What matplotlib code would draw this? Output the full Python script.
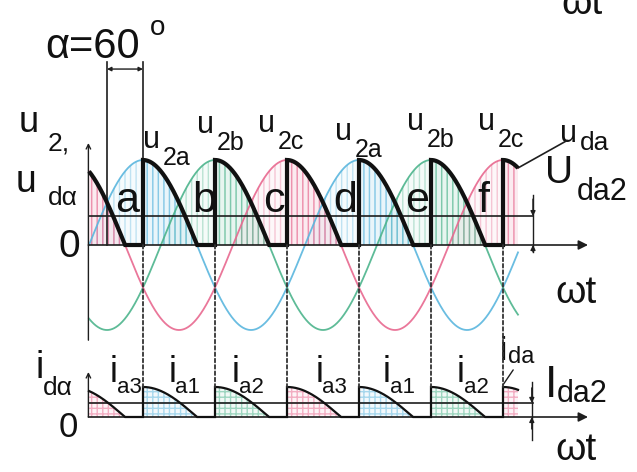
import numpy as np
import matplotlib
matplotlib.use("Agg")
import matplotlib.pyplot as plt
from matplotlib.patches import ConnectionPatch

plt.rcParams["font.family"] = ["Liberation Sans", "DejaVu Sans"]
plt.rcParams["hatch.linewidth"] = 1.0

# ---- three-phase half-wave rectifier, resistive load ----
# angles in electrical degrees, voltages/currents per unit of the peak value
phase_shifts = [0, 120, 240]                 # u2a, u2b, u2c
phase_colors = ["#5ab6de", "#4cb48c", "#e8688f"]
firing_angle = 60                            # alpha
theta_stop = 715                             # end of the drawn interval
ud_mean_level = 0.34                         # U_da2 marker level
id_mean_level = 0.47                         # I_da2 marker level
pulse_letters = ["a", "b", "c", "d", "e", "f"]
top_labels = ["2a", "2b", "2c", "2a", "2b", "2c"]
current_labels = ["a3", "a1", "a2", "a3", "a1", "a2"]

# firing instants: natural commutation (30 deg after zero crossing) + alpha
fire = [30 + firing_angle + 120 * k for k in range(-1, 7)]
fire_phase = [k % 3 for k in range(-1, 7)]

theta = np.linspace(0, theta_stop, 2400)
phases = [np.sin(np.radians(theta - s)) for s in phase_shifts]

# conduction segments of the rectified voltage
segments = []
for j in range(len(fire) - 1):
    start, end = max(fire[j], 0), min(fire[j + 1], theta_stop)
    if end <= start:
        continue
    t = np.linspace(start, end, 300)
    v = np.clip(np.sin(np.radians(t - phase_shifts[fire_phase[j]])), 0, None)
    segments.append((t, v, fire_phase[j]))
ud_t = np.concatenate([s[0] for s in segments])
ud_v = np.concatenate([s[1] for s in segments])

fig = plt.figure(figsize=(6.37, 4.72), dpi=100)
H = 472.0
ax1 = fig.add_axes([0, 122 / H, 1, 350 / H])
ax2 = fig.add_axes([0, 0, 1, 122 / H])
xlim = (-89 / 0.6, (637 - 89) / 0.6)
ax1.set_xlim(*xlim)
ax1.set_ylim((245 - 350) / 85, 245 / 85)
ax2.set_xlim(*xlim)
ax2.set_ylim((417 - 472) / 30, (417 - 350) / 30)
for ax in (ax1, ax2):
    ax.axis("off")

ink = "#1e1e1e"
txt = "#111111"

# ---------------- voltage diagram ----------------
for p, col in zip(phases, phase_colors):
    ax1.fill_between(theta, 0, p, where=p > 0, interpolate=True,
                     facecolor=(col, 0.05), edgecolor=(col, 0.35),
                     hatch="|||", linewidth=0, zorder=1)
for t, v, k in segments:
    ax1.fill_between(t, 0, v, facecolor=(phase_colors[k], 0.08),
                     edgecolor=(phase_colors[k], 0.5), hatch="|||",
                     linewidth=0, zorder=1.5)
for p, col in zip(phases, phase_colors):
    ax1.plot(theta, p, color=col, lw=1.3, alpha=0.9, zorder=3)

ax1.plot(ud_t, ud_v, color="#111111", lw=3.0, solid_joinstyle="miter",
         solid_capstyle="butt", zorder=5)

# axes with arrows
ax1.annotate("", xy=((588 - 89) / 0.6, 0), xytext=(-1, 0),
             arrowprops=dict(arrowstyle="-|>", color=ink, lw=1.2,
                             mutation_scale=14, shrinkA=0, shrinkB=0), zorder=4)
ax1.annotate("", xy=(-1, 1.2), xytext=(-1, -1.12),
             arrowprops=dict(arrowstyle="->", color=ink, lw=1.0,
                             mutation_scale=8, shrinkA=0, shrinkB=0), zorder=4)

# mean value line and its dimension marker
ax1.plot([0, 740], [ud_mean_level, ud_mean_level], color=ink, lw=1.2, zorder=4)
ax1.plot([740, 740], [0.59, -0.08], color=ink, lw=1.0, zorder=4)
ax1.annotate("", xy=(740, ud_mean_level), xytext=(740, ud_mean_level + 0.2),
             arrowprops=dict(arrowstyle="-|>", color=ink, lw=1.0,
                             mutation_scale=7, shrinkA=0, shrinkB=0))
ax1.annotate("", xy=(740, 0), xytext=(740, -0.08),
             arrowprops=dict(arrowstyle="-|>", color=ink, lw=1.0,
                             mutation_scale=7, shrinkA=0, shrinkB=0))

# alpha bracket between natural commutation point and firing point
nat = 30
ax1.plot([nat, nat], [0, 2.15], color=ink, lw=1.2, zorder=4)
ax1.plot([nat + firing_angle] * 2, [0, 2.15], color=ink, lw=1.2, zorder=4)
ax1.annotate("", xy=(nat, 2.07), xytext=(nat + firing_angle, 2.07),
             arrowprops=dict(arrowstyle="<|-|>", color=ink, lw=1.0,
                             mutation_scale=6, shrinkA=0, shrinkB=0))

# ---------------- current diagram ----------------
for t, v, k in segments:
    ax2.fill_between(t, 0, v, facecolor=(phase_colors[k], 0.07),
                     edgecolor=(phase_colors[k], 0.5), hatch="+++",
                     linewidth=0, zorder=1)
ax2.plot(ud_t, ud_v, color="#111111", lw=1.6, solid_joinstyle="miter", zorder=5)
ax2.annotate("", xy=((588 - 89) / 0.6, 0), xytext=(-1, 0),
             arrowprops=dict(arrowstyle="-|>", color=ink, lw=1.2,
                             mutation_scale=14, shrinkA=0, shrinkB=0), zorder=4)
ax2.annotate("", xy=(-1, 1.5), xytext=(-1, 0),
             arrowprops=dict(arrowstyle="->", color=ink, lw=1.0,
                             mutation_scale=8, shrinkA=0, shrinkB=0), zorder=4)
ax2.plot([0, 740], [id_mean_level, id_mean_level], color=ink, lw=1.2, zorder=4)
ax2.plot([738, 738], [1.17, -0.77], color=ink, lw=1.0, zorder=4)
ax2.annotate("", xy=(738, id_mean_level), xytext=(738, id_mean_level + 0.5),
             arrowprops=dict(arrowstyle="-|>", color=ink, lw=1.0,
                             mutation_scale=7, shrinkA=0, shrinkB=0))
ax2.annotate("", xy=(738, 0), xytext=(738, -0.4),
             arrowprops=dict(arrowstyle="-|>", color=ink, lw=1.0,
                             mutation_scale=7, shrinkA=0, shrinkB=0))

# dotted projections of the firing instants
for f, k in zip(fire, fire_phase):
    if 0 < f < theta_stop:
        peak = np.sin(np.radians(f - phase_shifts[k]))
        con = ConnectionPatch(xyA=(f, 0), coordsA=ax1.transData,
                              xyB=(f, peak), coordsB=ax2.transData,
                              linestyle=(0, (2.0, 1.5)), color="#333333", lw=1.3)
        fig.add_artist(con)


# ---------------- labels ----------------
def sub_label(ax, x, y, main, sub, size, sub_size, dx, dy):
    ax.text(x, y, main, fontsize=size, ha="left", va="baseline", color=txt)
    ax.annotate(sub, xy=(x, y), xytext=(dx, -dy), textcoords="offset pixels",
                fontsize=sub_size, ha="left", va="baseline", color=txt)


ax1.text(-73, 2.2, "α=60", fontsize=30, ha="left", va="baseline", color=txt)
ax1.text(102, 2.47, "o", fontsize=20, ha="left", va="baseline", color=txt)
sub_label(ax1, -118, 1.33, "u", "2,", 26, 19, 29, 19)
sub_label(ax1, -122, 0.62, "u", "dα", 27, 19, 32, 13)
ax1.text(-50, -0.14, "0", fontsize=28, ha="left", va="baseline", color=txt)

top_x = [90, 180, 282, 410, 530, 648]
top_y = [1.14, 1.32, 1.33, 1.24, 1.35, 1.35]
for x, y, s in zip(top_x, top_y, top_labels):
    sub_label(ax1, x, y, "u", s, 22, 18, 20, 17)

letter_x = [43, 172, 290, 407, 527, 648]
for x, s in zip(letter_x, pulse_letters):
    ax1.text(x, 0.39, s, fontsize=31, ha="left", va="baseline",
             color=txt, zorder=6)

sub_label(ax1, 785, 1.21, "u", "da", 22, 19, 20, 8)
ax1.annotate("", xy=(theta_stop, ud_v[-1]), xytext=(797, 1.23),
             arrowprops=dict(arrowstyle="-", color=ink, lw=1.2,
                             shrinkA=0, shrinkB=0))
sub_label(ax1, 760, 0.73, "U", "da2", 28, 22, 32, 17)
ax1.text(777, -0.68, "ωt", fontsize=28, ha="left", va="baseline", color=txt)
ax1.text(788, 2.72, "ωt", fontsize=28, ha="left", va="baseline", color=txt)

sub_label(ax2, -90, 1.3, "i", "dα", 27, 19, 8, 17)
ax2.text(-50, -0.667, "0", fontsize=25, ha="left", va="baseline", color=txt)
cur_x = [35, 132, 238, 377, 490, 613]
for x, s in zip(cur_x, current_labels):
    sub_label(ax2, x, 1.17, "i", s, 26, 16, 7, 11)
sub_label(ax2, 685, 1.9, "i", "da", 24, 17, 8, 3)
ax2.annotate("", xy=(690, 1.07), xytext=(707, 1.57),
             arrowprops=dict(arrowstyle="-", color=ink, lw=1.0,
                             shrinkA=0, shrinkB=0))
sub_label(ax2, 760, 0.667, "I", "da2", 32, 22, 12, 5)
ax2.text(777, -1.43, "ωt", fontsize=28, ha="left", va="baseline", color=txt)

fig.savefig("out.png", dpi=100, facecolor="white")
